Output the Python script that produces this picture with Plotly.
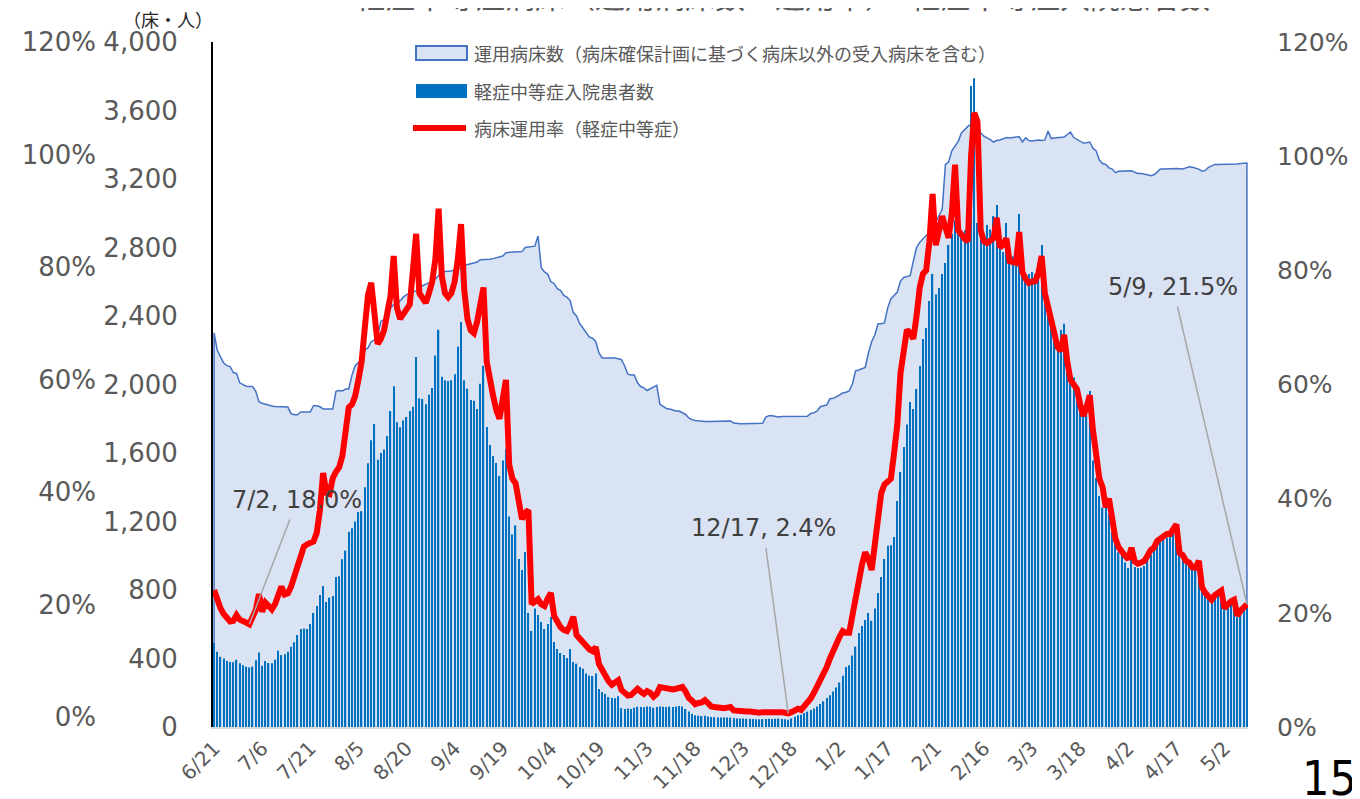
import pandas as pd
import plotly.graph_objects as go

start_date = "2021-06-21"
end_date = "2022-05-09"

tick_labels = ["6/21", "7/6", "7/21", "8/5", "8/20", "9/4", "9/19", "10/4", "10/19", "11/3",
               "11/18", "12/3", "12/18", "1/2", "1/17", "2/1", "2/16", "3/3", "3/18", "4/2",
               "4/17", "5/2"]

# 運用病床数
beds = [2302, 2200, 2160, 2125, 2110, 2105, 2070, 2065, 2010, 2000,
        1990, 1988, 1988, 1960, 1900, 1890, 1884, 1878, 1875, 1872,
        1872, 1870, 1870, 1868, 1830, 1823, 1823, 1840, 1840, 1840,
        1840, 1876, 1876, 1870, 1857, 1857, 1857, 1857, 1960, 1965,
        1962, 1974, 1974, 2055, 2110, 2130, 2145, 2200, 2215, 2250,
        2260, 2290, 2368, 2380, 2400, 2447, 2468, 2475, 2488, 2510,
        2525, 2530, 2540, 2548, 2555, 2578, 2585, 2593, 2605, 2616,
        2635, 2657, 2660, 2662, 2663, 2670, 2675, 2682, 2695, 2700,
        2705, 2710, 2715, 2729, 2729, 2730, 2732, 2735, 2740, 2747,
        2750, 2770, 2774, 2774, 2774, 2775, 2776, 2800, 2802, 2805,
        2808, 2867, 2682, 2657, 2645, 2600, 2590, 2560, 2550, 2520,
        2510, 2490, 2420, 2400, 2355, 2330, 2302, 2277, 2270, 2250,
        2184, 2155, 2155, 2155, 2155, 2155, 2150, 2145, 2108, 2060,
        2055, 2055, 2010, 1988, 1980, 1965, 1975, 1985, 1995, 1884,
        1870, 1860, 1857, 1850, 1845, 1845, 1835, 1825, 1805, 1795,
        1790, 1787, 1785, 1784, 1784, 1784, 1785, 1787, 1787, 1787,
        1787, 1787, 1775, 1771, 1771, 1771, 1772, 1772, 1772, 1772,
        1773, 1773, 1810, 1818, 1818, 1812, 1810, 1813, 1813, 1813,
        1813, 1813, 1814, 1815, 1815, 1815, 1831, 1835, 1845, 1870,
        1876, 1880, 1917, 1920, 1928, 1940, 1950, 1955, 1962, 2003,
        2080, 2085, 2093, 2100, 2184, 2250, 2289, 2355, 2355, 2360,
        2447, 2500, 2520, 2540, 2604, 2625, 2630, 2635, 2720, 2800,
        2830, 2853, 2870, 2885, 2931, 2950, 2990, 3022, 3285, 3299,
        3364, 3390, 3420, 3469, 3490, 3507, 3521, 3530, 3521, 3469,
        3450, 3442, 3430, 3416, 3425, 3428, 3435, 3442, 3440, 3442,
        3444, 3447, 3416, 3440, 3425, 3422, 3425, 3428, 3425, 3428,
        3480, 3436, 3440, 3442, 3442, 3445, 3460, 3474, 3442, 3430,
        3422, 3410, 3412, 3416, 3380, 3364, 3311, 3290, 3285, 3265,
        3258, 3237, 3245, 3245, 3245, 3245, 3248, 3240, 3232, 3232,
        3230, 3225, 3219, 3225, 3240, 3258, 3258, 3260, 3258, 3260,
        3262, 3260, 3258, 3265, 3271, 3268, 3262, 3258, 3245, 3250,
        3268, 3278, 3285, 3284, 3284, 3285, 3286, 3286, 3288, 3288,
        3290, 3292, 3293]

# 軽症中等症入院患者数
patients = [490, 440, 410, 400, 385, 380, 378, 392, 372, 360,
            352, 348, 352, 390, 435, 358, 385, 374, 372, 392,
            445, 420, 425, 440, 468, 495, 537, 572, 575, 572,
            601, 666, 707, 771, 823, 730, 755, 765, 876, 880,
            980, 1030, 1140, 1160, 1200, 1255, 1260, 1400, 1540, 1675,
            1770, 1560, 1600, 1620, 1700, 1845, 1990, 1780, 1750, 1790,
            1810, 1845, 1870, 2160, 1920, 1915, 1885, 1940, 1980, 2170,
            2320, 2045, 2025, 2020, 2025, 2060, 2220, 2365, 2025, 1975,
            1910, 1905, 1857, 2005, 2110, 1752, 1647, 1582, 1541, 1466,
            1556, 1623, 1229, 1124, 1177, 981, 917, 1022, 666, 561,
            692, 654, 613, 572, 601, 642, 496, 455, 432, 420,
            403, 455, 380, 370, 350, 340, 312, 300, 298, 312,
            222, 205, 194, 175, 169, 168, 180, 110, 105, 108,
            105, 112, 118, 117, 115, 120, 118, 112, 117, 120,
            118, 117, 119, 117, 120, 122, 120, 105, 90, 76,
            68, 66, 64, 65, 62, 58, 57, 56, 55, 55,
            56, 55, 52, 50, 50, 49, 48, 48, 47, 45,
            45, 46, 47, 48, 47, 48, 49, 47, 45, 43,
            50, 60, 68, 72, 82, 90, 100, 108, 120, 135,
            150, 169, 185, 208, 230, 260, 300, 350, 360, 417,
            469, 549, 590, 625, 666, 620, 692, 782, 876, 981,
            1059, 1062, 1110, 1320, 1489, 1635, 1766, 1898, 1857, 1974,
            2108, 2266, 2330, 2487, 2645, 2525, 2564, 2645, 2710, 2815,
            2879, 2957, 2920, 2890, 2900, 2867, 3743, 3788, 2943, 2920,
            2867, 2931, 2905, 2984, 3048, 2800, 2774, 2943, 2762, 2747,
            2750, 2996, 2710, 2616, 2645, 2657, 2645, 2710, 2815, 2577,
            2473, 2368, 2250, 2198, 2318, 2355, 2079, 2026, 2041, 1923,
            1870, 1818, 1857, 1962, 1556, 1454, 1349, 1281, 1320, 1244,
            1139, 1110, 1020, 1004, 960, 928, 1004, 935, 928, 930,
            940, 975, 1004, 1030, 1057, 1086, 1095, 1105, 1110, 1130,
            1162, 1034, 1000, 981, 952, 940, 928, 945, 800, 782,
            765, 759, 770, 790, 797, 692, 700, 718, 745, 642,
            666, 692, 700]

# 病床運用率（軽症中等症） %
rate = [24.0, 22.3, 20.8, 19.8, 19.0, 18.5, 18.6, 19.6, 18.8, 18.4,
        18.3, 18.0, 19.0, 20.5, 23.3, 20.2, 21.8, 21.2, 20.6, 21.5,
        22.8, 24.6, 23.2, 23.4, 24.6, 26.2, 28.0, 30.0, 31.6, 32.0,
        32.2, 32.5, 34.0, 38.0, 44.5, 41.0, 40.8, 43.6, 44.7, 45.5,
        47.5, 52.0, 56.0, 56.5, 58.0, 60.8, 64.0, 70.0, 75.7, 77.8,
        71.0, 67.1, 68.0, 69.5, 72.5, 75.5, 82.5, 73.5, 71.5, 72.5,
        73.0, 74.0, 80.0, 86.4, 76.0, 75.0, 74.3, 76.0, 78.0, 82.0,
        90.8, 79.0, 76.0, 75.3, 76.0, 78.0, 82.0, 88.1, 76.5, 71.5,
        69.5, 69.0, 71.0, 74.0, 77.0, 64.0, 60.5, 58.0, 55.5, 54.0,
        57.5, 60.8, 46.0, 43.5, 42.7, 39.0, 36.4, 37.5, 38.0, 21.5,
        22.0, 22.4, 21.5, 21.2, 22.5, 23.5, 19.5, 18.4, 17.5, 17.0,
        16.8, 17.8, 19.3, 16.1, 15.5, 14.8, 14.0, 13.6, 13.3, 14.0,
        11.0, 10.0, 8.5, 8.0, 7.4, 7.8, 8.2, 6.5, 5.8, 5.5,
        5.6, 6.0, 6.7, 6.2, 5.8, 6.3, 6.0, 5.3, 5.8, 7.0,
        6.9, 6.6, 6.7, 6.6, 6.7, 6.8, 7.0, 6.2, 5.1, 4.6,
        4.0, 4.2, 4.3, 4.7, 4.0, 3.6, 3.5, 3.4, 3.3, 3.3,
        3.4, 3.5, 2.9, 2.8, 2.9, 2.8, 2.7, 2.7, 2.6, 2.5,
        2.5, 2.6, 2.6, 2.7, 2.6, 2.7, 2.8, 2.6, 2.5, 2.4,
        2.6, 3.0, 3.2, 3.0, 3.6, 4.2, 5.0, 6.0, 7.0, 8.2,
        9.5, 10.5, 12.0, 13.5, 14.5, 15.8, 16.8, 16.5, 16.5, 20.0,
        22.0, 25.5, 28.5, 30.6, 29.5, 27.5, 32.0, 36.0, 41.0, 42.5,
        43.0, 43.5, 48.0, 53.0, 62.0, 66.0, 69.6, 69.0, 68.0, 72.0,
        77.0, 79.4, 80.0, 85.0, 93.4, 84.4, 87.0, 89.5, 87.5, 85.7,
        90.0, 98.5, 87.0, 86.0, 85.5, 85.1, 100.0, 107.6, 106.0, 87.0,
        85.1, 84.8, 85.2, 85.6, 89.2, 84.0, 84.5, 85.6, 81.6, 81.5,
        81.3, 86.7, 79.7, 78.5, 77.8, 78.0, 78.1, 79.5, 82.5, 76.0,
        73.5, 71.8, 69.0, 66.5, 65.9, 68.7, 64.0, 60.8, 60.0, 59.2,
        56.5, 54.5, 56.0, 58.1, 52.0, 47.5, 43.5, 42.0, 38.5, 40.0,
        37.0, 33.0, 31.5, 30.6, 30.0, 29.4, 31.4, 29.0, 28.6, 28.8,
        29.1, 30.0, 31.0, 31.4, 32.6, 33.0, 33.5, 33.8, 33.8, 34.5,
        35.5, 30.5, 30.1, 29.1, 28.8, 28.0, 27.9, 29.1, 24.5, 23.5,
        22.8, 22.3, 23.1, 23.5, 23.9, 20.8, 21.5, 22.0, 22.3, 19.5,
        20.4, 21.0, 21.5]

# callouts: date, label, text offset in px
callouts = [("2021-07-02", "7/2, 18.0%", 48, -124),
            ("2021-12-17", "12/17, 2.4%", -25, -185),
            ("2022-05-09", "5/9, 21.5%", -74, -317)]

legend_names = ["運用病床数（病床確保計画に基づく病床以外の受入病床を含む）",
                "軽症中等症入院患者数",
                "病床運用率（軽症中等症）"]

dates = pd.date_range(start_date, end_date, freq="D")
gray = "#595959"
num_font = "DejaVu Sans, Noto Sans CJK JP, sans-serif"
jp_font = "Noto Sans CJK JP, DejaVu Sans, sans-serif"

# the page body adds an 8px margin, so the figure is drawn 8px in
OFF = 8
W, H = 1352, 791
ML, MR, MT, MB = 2, 112, 34, 72
PW, PH = W - ML - MR, H - MT - MB


def px_x(sx):
    # screen x -> paper x
    return (sx - OFF - ML) / PW


def px_y(sy):
    # screen y -> paper y
    return (H - MB - (sy - OFF)) / PH


fig = go.Figure()

fig.add_trace(go.Scatter(
    x=[dates[0]] + list(dates) + [dates[-1]],
    y=[0] + beds + [0],
    mode="lines", fill="toself", fillcolor="#DAE3F3",
    line=dict(color="#4472C4", width=1.5),
    name=legend_names[0], hoverinfo="skip",
))
fig.add_trace(go.Bar(
    x=dates, y=patients, yaxis="y2",
    marker=dict(color="#0070C0", line_width=0),
    name=legend_names[1],
))
fig.add_trace(go.Scatter(
    x=dates, y=rate, yaxis="y3", mode="lines",
    line=dict(color="#FF0000", width=6),
    name=legend_names[2],
))
# carrier for the left-hand % scale
fig.add_trace(go.Scatter(
    x=dates, y=rate, yaxis="y4", mode="lines",
    line=dict(color="rgba(0,0,0,0)", width=0),
    hoverinfo="skip",
))

annotations = []
for d, label, ax, ay in callouts:
    i = dates.get_loc(pd.Timestamp(d))
    annotations.append(dict(
        x=dates[i], y=rate[i], xref="x", yref="y3", text=label,
        showarrow=True, arrowhead=0, arrowwidth=1.5, arrowcolor="#A6A6A6",
        ax=ax, ay=ay, startstandoff=4,
        font=dict(family=num_font, size=24, color="#404040"),
    ))

annotations.append(dict(
    text="軽症中等症病床（運用病床数・運用率）・軽症中等症入院患者数",
    xref="paper", yref="paper", x=px_x(782), y=px_y(-5), showarrow=False,
    xanchor="center", yanchor="middle",
    font=dict(family=jp_font, size=30, color=gray),
))
annotations.append(dict(
    text="（床・人）", xref="paper", yref="paper", x=px_x(168), y=px_y(19),
    showarrow=False, xanchor="center", yanchor="middle",
    font=dict(family=jp_font, size=18, color="#262626"),
))
annotations.append(dict(
    text="15", xref="paper", yref="paper", x=px_x(1329), y=px_y(778),
    showarrow=False, xanchor="center", yanchor="middle",
    font=dict(family="Liberation Sans Narrow, DejaVu Sans Condensed, sans-serif",
              size=48, color="black"),
))

# hand-drawn legend (Excel-style wide swatches)
leg_y = [53, 91, 128]
shapes = [
    dict(type="rect", xref="paper", yref="paper",
         x0=px_x(416), x1=px_x(467), y0=px_y(leg_y[0] + 7), y1=px_y(leg_y[0] - 7),
         fillcolor="#DAE3F3", line=dict(color="#4472C4", width=2)),
    dict(type="rect", xref="paper", yref="paper",
         x0=px_x(416), x1=px_x(467), y0=px_y(leg_y[1] + 7), y1=px_y(leg_y[1] - 7),
         fillcolor="#0070C0", line=dict(width=0)),
    dict(type="line", xref="paper", yref="paper",
         x0=px_x(413), x1=px_x(466), y0=px_y(leg_y[2]), y1=px_y(leg_y[2]),
         line=dict(color="#FF0000", width=6)),
]
for name, ly in zip(legend_names, leg_y):
    annotations.append(dict(
        text=name, xref="paper", yref="paper", x=px_x(472), y=px_y(ly),
        showarrow=False, xanchor="left", yanchor="middle",
        font=dict(family=jp_font, size=18, color=gray),
    ))

fig.update_layout(
    width=W, height=H,
    margin=dict(l=ML, r=MR, t=MT, b=MB, autoexpand=False),
    paper_bgcolor="white", plot_bgcolor="white",
    font=dict(family=num_font, color=gray),
    bargap=0.6,
    showlegend=False,
    xaxis=dict(
        domain=[px_x(213), 1], automargin=False,
        range=[dates[0] - pd.Timedelta(hours=8), dates[-1] + pd.Timedelta(hours=8)],
        tickvals=list(dates[::15]), ticktext=tick_labels, tickangle=-45,
        tickfont=dict(size=20, color=gray),
        showline=True, linecolor="#D9D9D9", linewidth=1.5,
        showgrid=False, zeroline=False, ticks="",
    ),
    yaxis=dict(
        range=[0, 4000], dtick=400, tickformat=",", automargin=False,
        showgrid=False, zeroline=False,
        showline=True, linecolor="black", linewidth=2,
        tickfont=dict(size=26, color=gray), ticklabelstandoff=28,
    ),
    yaxis2=dict(overlaying="y", range=[0, 4000], visible=False, automargin=False),
    yaxis3=dict(
        overlaying="y", side="right", anchor="x", range=[0, 120], dtick=20,
        ticksuffix="%", showgrid=False, zeroline=False, showline=False,
        automargin=False,
        tickfont=dict(size=25, color=gray), ticklabelstandoff=28,
    ),
    yaxis4=dict(
        overlaying="y", side="left", anchor="free", position=px_x(96),
        range=[-1.78, 120], dtick=20, ticksuffix="%", automargin=False,
        showgrid=False, zeroline=False, showline=False,
        tickfont=dict(size=26, color=gray),
    ),
    shapes=shapes,
    annotations=annotations,
)

fig.write_html("out.html")
